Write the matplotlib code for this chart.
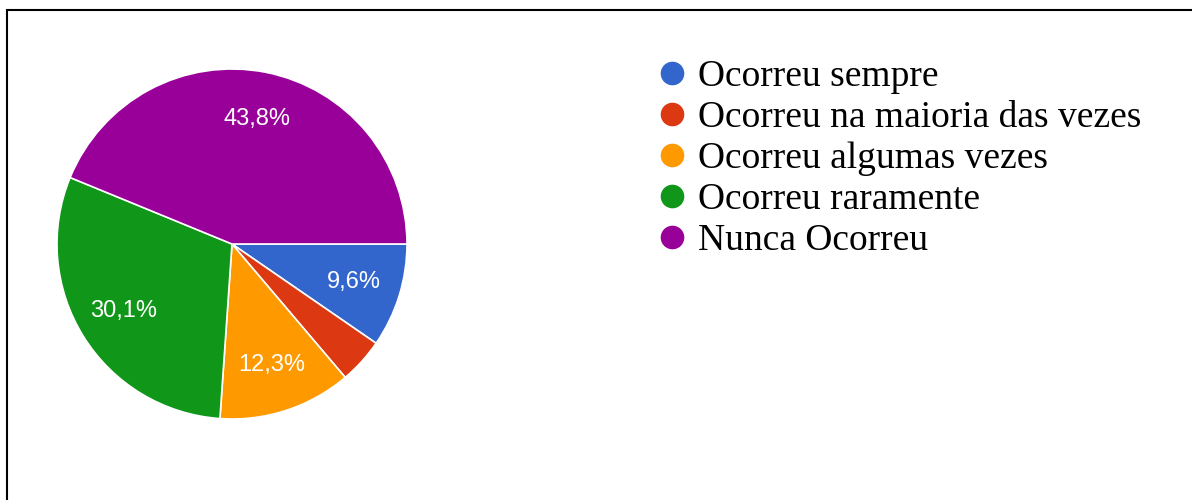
import matplotlib.pyplot as plt
from matplotlib.lines import Line2D
from matplotlib.patches import Rectangle

# dados do gráfico
categorias = ["Ocorreu sempre", "Ocorreu na maioria das vezes",
              "Ocorreu algumas vezes", "Ocorreu raramente", "Nunca Ocorreu"]
valores = [9.6, 4.2, 12.3, 30.1, 43.8]
cores = ["#3366CC", "#DC3912", "#FF9900", "#109618", "#990099"]

W, H = 1192, 500
fig = plt.figure(figsize=(W / 100, H / 100), dpi=100)

# pizza: centro (232, 244) px, raio 175 px
cx, cy, r = 232, 244, 175
ax = fig.add_axes([(cx - r) / W, (H - cy - r) / H, 2 * r / W, 2 * r / H])


def rotulo(p):
    if p < 5:
        return ""
    return f"{p:.1f}%".replace(".", ",")


wedges, textos, autotextos = ax.pie(
    valores, colors=cores, startangle=0, counterclock=False,
    autopct=rotulo, pctdistance=0.73,
    wedgeprops=dict(edgecolor="white", linewidth=1.2),
    textprops=dict(color="white", fontsize=17, family="Liberation Sans"))
ax.set_xlim(-1, 1)
ax.set_ylim(-1, 1)
ax.set_aspect("equal")

# legenda
handles = [Line2D([], [], linestyle="none", marker="o", markersize=16,
                  markerfacecolor=c, markeredgecolor=c) for c in cores]
fig.legend(handles, categorias, loc="upper left",
           bbox_to_anchor=(664 / W, 1 - 60 / H), frameon=False,
           prop=dict(family="Liberation Serif", size=27),
           handlelength=0.45, handletextpad=0.45, labelspacing=0.17,
           borderpad=0, borderaxespad=0)

# moldura (só topo e esquerda visíveis)
fig.add_artist(Rectangle((7 / W, -0.1), 1.2, (H - 10) / H + 0.1,
                         transform=fig.transFigure, fill=False,
                         edgecolor="black", linewidth=1.5))

fig.savefig("out.png", dpi=100)
